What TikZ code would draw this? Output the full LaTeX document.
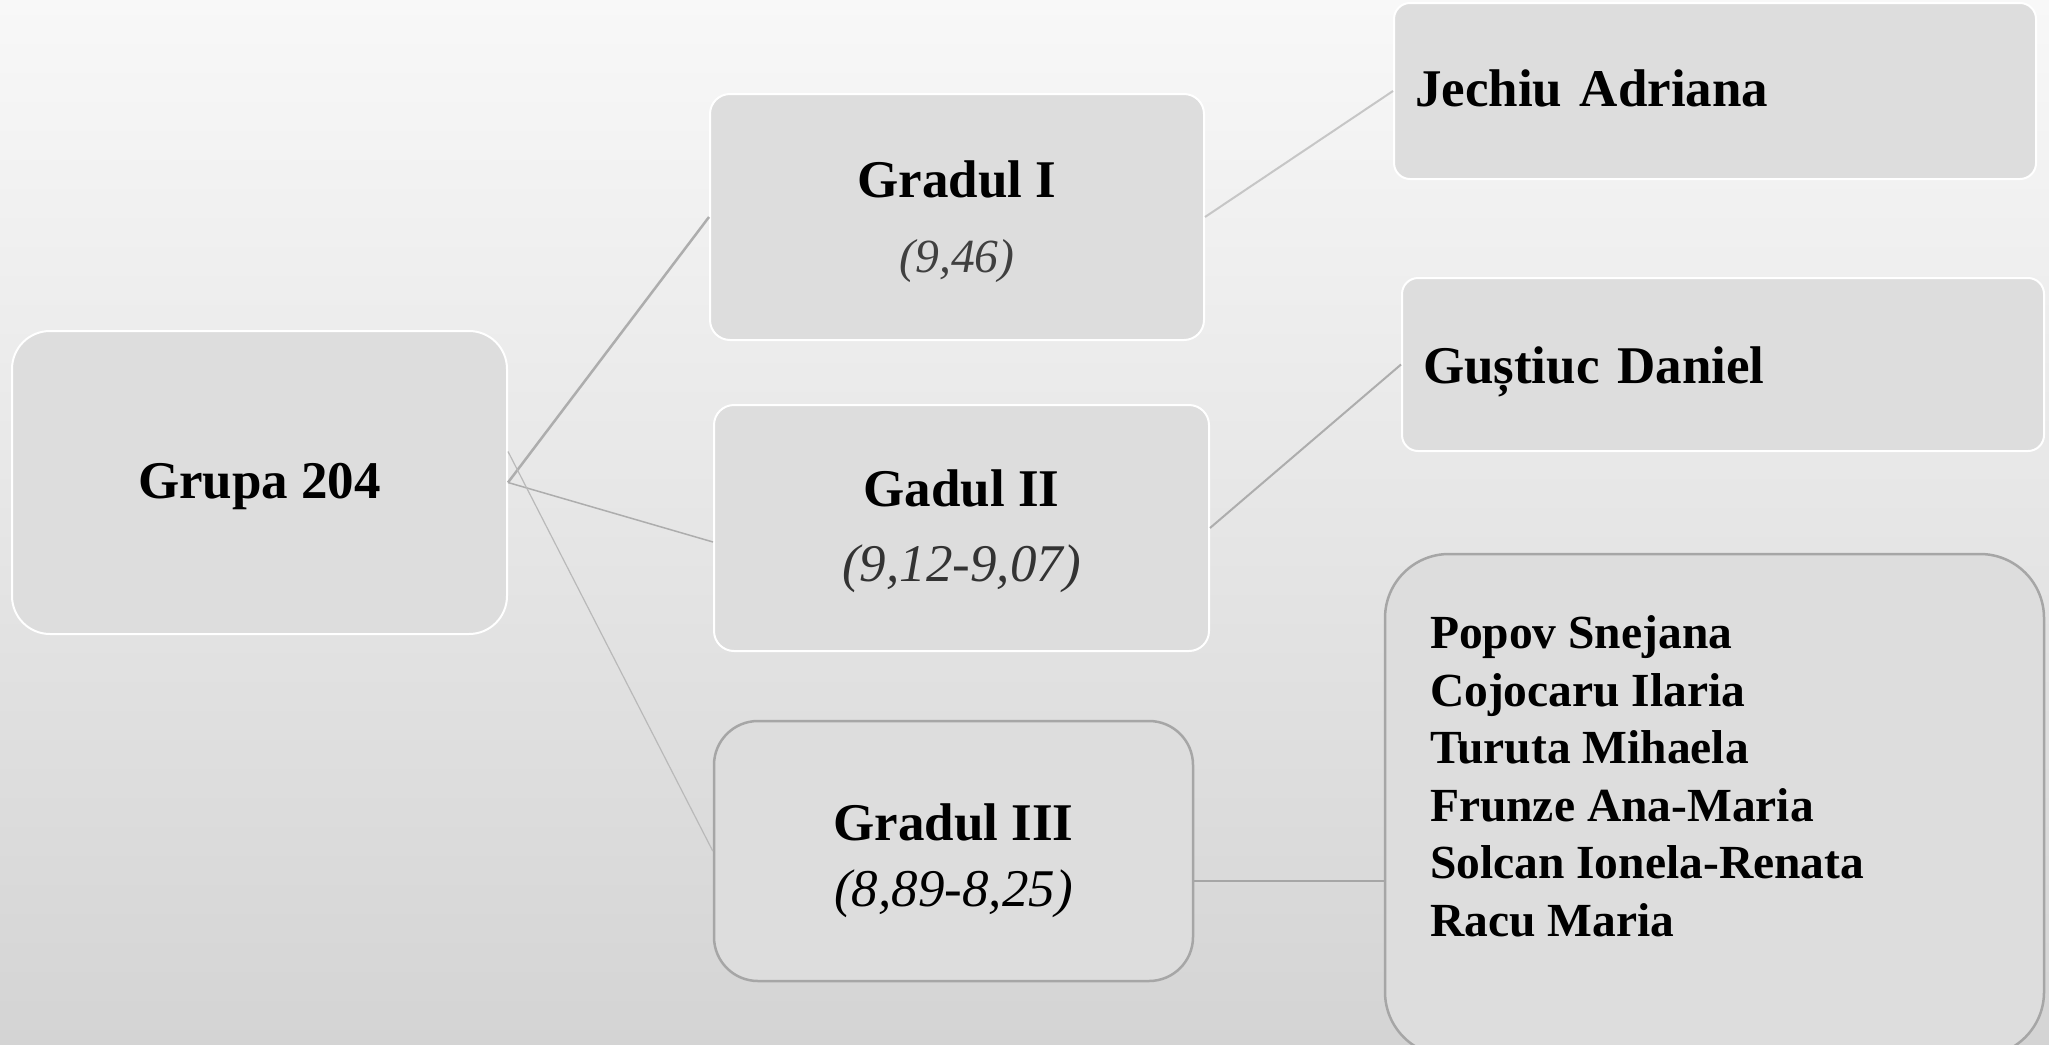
\documentclass[tikz,border=0pt]{standalone}
\usepackage{fontspec}
\setmainfont{Liberation Serif}

\definecolor{bgtop}{HTML}{F8F8F8}
\definecolor{bgmid}{HTML}{F2F2F2}
\definecolor{bgbot}{HTML}{D4D4D4}
\definecolor{boxfill}{HTML}{DDDDDD}
\definecolor{boxline}{HTML}{A6A6A6}
\definecolor{linkgray}{HTML}{ADADAD}
\definecolor{numgray}{HTML}{404040}

\tikzset{
  box/.style={draw=white, line width=1pt, fill=boxfill, rounded corners=10pt,
    align=center, inner sep=0pt, font=\fontsize{26.5}{37.5}\selectfont\bfseries},
  graybox/.style={box, draw=boxline, line width=1.25pt},
  namebox/.style={box, align=left, text width=300pt, inner xsep=10.5pt, rounded corners=8pt},
  link/.style={draw=linkgray, line width=1pt},
}

\begin{document}
\begin{tikzpicture}[x=0.5pt,y=-0.5pt]
\shade[top color=bgtop, middle color=bgmid, bottom color=bgbot] (0,0) rectangle (2049,1044);
\path[use as bounding box] (0,0) rectangle (2049,1044);
\clip (0,0) rectangle (2049,1044);

\node[box, rounded corners=19pt, minimum width=247.5pt, minimum height=151.5pt] (grupa) at (259.5,482.5)
  {\rule{0pt}{22pt}Grupa 204};
\node[box, minimum width=247pt, minimum height=123pt] (gradI) at (957,217)
  {\rule{0pt}{23pt}Gradul I\\{\mdseries\itshape\fontsize{23.8}{37.5}\selectfont\color{numgray}(9,46)}};
\node[box, minimum width=247.5pt, minimum height=123pt] (gradII) at (961.5,528)
  {\rule{0pt}{22pt}Gadul II\\{\mdseries\itshape\color{numgray!80!black}(9,12-9,07)}};
\node[graybox, rounded corners=22pt, minimum width=239.5pt, minimum height=130pt] (gradIII) at (953.5,851)
  {\rule{0pt}{28pt}Gradul III\\[-4.5pt]{\mdseries\itshape(8,89-8,25)}};

\node[namebox, minimum height=88pt] (jechiu) at (1715,91) {\rule[-3pt]{0pt}{1pt}Jechiu Adriana};
\node[namebox, minimum height=86.5pt] (gustiuc) at (1723,364.5) {\rule{0pt}{26pt}Guștiuc Daniel};
\node[graybox, rounded corners=32pt, align=left, inner xsep=22.5pt, inner ysep=0pt,
  font=\fontsize{23.75}{28.75}\selectfont\bfseries] (names) at (1714.5,805)
  {\parbox[c][251pt][t]{284.5pt}{\raggedright\vspace*{31pt}Popov Snejana\\
   Cojocaru Ilaria\\
   Turuta Mihaela\\
   Frunze Ana-Maria\\
   Solcan Ionela-Renata\\
   Racu Maria}};

\draw[link, line width=1.25pt] (grupa.east) -- (gradI.west);
\draw[link, line width=0.75pt] (grupa.east) -- ([yshift=-7pt]gradII.west);
\draw[link, draw=linkgray!85!white, line width=0.6pt] ([yshift=15.5pt]grupa.east) -- (gradIII.west);
\draw[link, draw=linkgray!70!white] (gradI.east) -- (jechiu.west);
\draw[link] (gradII.east) -- (gustiuc.west);
\coordinate (g3out) at ([yshift=-15pt]gradIII.east);
\draw[link, draw=boxline, line width=0.8pt] (g3out) -- (g3out -| names.west);
\end{tikzpicture}
\end{document}
